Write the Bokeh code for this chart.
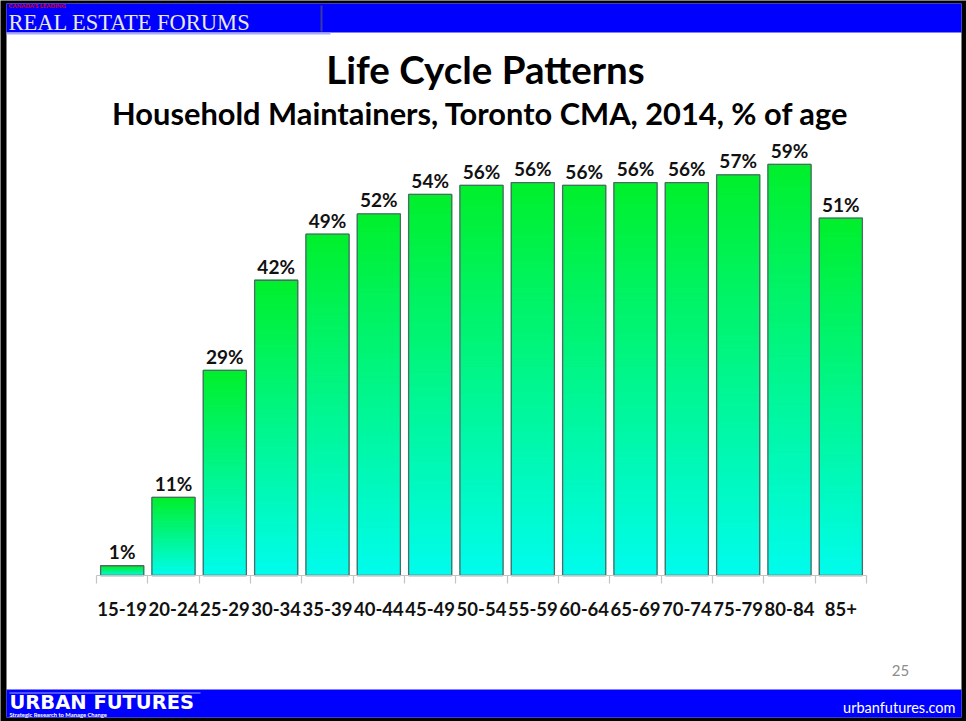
from bokeh.plotting import figure
from bokeh.models import (Range1d, FixedTicker, CustomJSTickFormatter, Label, BoxAnnotation,
                          ColumnDataSource, LinearAxis)
from bokeh.core.properties import value
from bokeh.embed import file_html
from bokeh.resources import INLINE

# ---- data ----
categories = ["15-19", "20-24", "25-29", "30-34", "35-39", "40-44", "45-49", "50-54",
              "55-59", "60-64", "65-69", "70-74", "75-79", "80-84", "85+"]
values = [1.4, 11.2, 29.4, 42.3, 48.9, 51.8, 54.6, 55.9, 56.3, 55.9, 56.3, 56.3, 57.4, 58.9, 51.2]
value_labels = ["1%", "11%", "29%", "42%", "49%", "52%", "54%", "56%",
                "56%", "56%", "56%", "56%", "57%", "59%", "51%"]
title_text = "Life Cycle Patterns"
subtitle_text = "Household Maintainers, Toronto CMA, 2014, % of age"
header_small = "CANADA'S LEADING"
header_text = "REAL ESTATE FORUMS"
footer_left = "URBAN FUTURES"
footer_tag = "Strategic Research to Manage Change"
footer_right = "urbanfutures.com"
page_number = "25"

# ---- layout (canvas pixels) ----
W, H = 966, 721
PLOT_L, PLOT_R, BASE_Y = 96, 866, 575
PX_PER_PCT = 6.98
ncat = len(categories)
px_per_cat = (PLOT_R - PLOT_L) / ncat
x_start = -PLOT_L / px_per_cat
x_end = ncat + (W - PLOT_R) / px_per_cat
y_start = -(H - BASE_Y) / PX_PER_PCT
y_end = BASE_Y / PX_PER_PCT
BLUE = "#0000FF"
BASELINE_FIX = 0.27  # empirical shift of the alphabetic baseline, in em

p = figure(width=W, height=H, output_backend="svg", toolbar_location=None, tools="",
           x_range=Range1d(x_start, x_end), y_range=Range1d(y_start, y_end),
           x_axis_location=None, y_axis_location=None,
           min_border=0, min_border_left=0, min_border_right=0,
           min_border_top=0, min_border_bottom=0)
p.xgrid.visible = False
p.ygrid.visible = False
p.outline_line_color = None
p.background_fill_color = "#000000"
p.border_fill_color = "#000000"

# ---- decorations helpers (screen units, origin bottom-left of canvas) ----
def sy(y):
    return H - y

def add_box(x0, y0, x1, y1, color):
    p.add_layout(BoxAnnotation(left=x0, right=x1, top=sy(y0), bottom=sy(y1),
                               left_units="screen", right_units="screen",
                               top_units="screen", bottom_units="screen",
                               fill_color=color, fill_alpha=1.0, line_color=None,
                               level="underlay"))

def add_text(txt, x, y, size, color="black", bold=False, align="left", font="Lato"):
    y_adj = y - BASELINE_FIX * size
    p.add_layout(Label(x=x, y=sy(y_adj), x_units="screen", y_units="screen", text=txt,
                       text_font=font, text_font_size=f"{size}px",
                       text_font_style="bold" if bold else "normal",
                       text_color=color, text_align=align, text_baseline="alphabetic"))

# slide background with black frame
add_box(6, 3, 961, 717, "white")

# header banner
add_box(6, 3, 961, 32, BLUE)
add_box(6, 32, 330, 34, "#a8a8ff")
add_box(320, 5, 322, 31, "#3a3aa0")

# footer banner
add_box(6, 689, 961, 717, BLUE)
add_box(9, 692, 200, 693, "#a0a0ff")

# ---- gradient bars ----
N = 60
BW = 0.84
top_rgb = (0, 240, 45)
bot_rgb = (0, 252, 236)
lefts, rights, bottoms, tops, colors = [], [], [], [], []
for i, v in enumerate(values):
    for k in range(N):
        t = k / (N - 1)
        r = int(round(bot_rgb[0] + (top_rgb[0] - bot_rgb[0]) * t))
        g = int(round(bot_rgb[1] + (top_rgb[1] - bot_rgb[1]) * t))
        b = int(round(bot_rgb[2] + (top_rgb[2] - bot_rgb[2]) * t))
        lefts.append(i + 0.5 - BW / 2)
        rights.append(i + 0.5 + BW / 2)
        bottoms.append(v * k / N)
        tops.append(min(v, v * (k + 2) / N))
        colors.append("#%02x%02x%02x" % (r, g, b))
p.quad(left=lefts, right=rights, bottom=bottoms, top=tops, fill_color=colors,
       line_color=colors, line_width=0.6)

xs = [i + 0.5 for i in range(ncat)]
src = ColumnDataSource(dict(x=xs, top=values, lab=value_labels))
p.vbar(x="x", top="top", width=BW, source=src, fill_color=None, line_color="#4f6a66", line_width=1.3)
p.text(x="x", y="top", text="lab", source=src, y_offset=-14, text_align="center",
       text_baseline="alphabetic", text_font=value("Lato"), text_font_style="bold",
       text_font_size="19px", text_color="#111111")

# ---- x axis at the baseline ----
ax = LinearAxis(fixed_location=0)
ax.ticker = FixedTicker(ticks=xs, minor_ticks=list(range(ncat + 1)))
ax.formatter = CustomJSTickFormatter(args=dict(labels=categories),
                                     code="const i = Math.round(tick - 0.5); return (i >= 0 && i < labels.length) ? labels[i] : '';")
ax.axis_line_color = "#c4c4c4"
ax.axis_line_width = 1.2
ax.major_tick_line_color = None
ax.major_tick_out = 0
ax.major_tick_in = 0
ax.minor_tick_line_color = "#c4c4c4"
ax.minor_tick_line_width = 1.2
ax.minor_tick_out = 8
ax.minor_tick_in = 0
ax.major_label_standoff = 18
ax.major_label_text_font = "Lato"
ax.major_label_text_font_style = "bold"
ax.major_label_text_font_size = "18.5px"
ax.major_label_text_color = "#111111"
ax.bounds = (0, ncat)
p.add_layout(ax, "below")

# header texts
add_text(header_small, 8, 7, 6, color="#e00000", bold=True)
add_text(header_text, 8, 28, 22.5, color="#e8e8e8", font="Liberation Serif")

# footer texts
add_text(footer_left, 9, 707, 19.5, color="white", bold=True, font="DejaVu Sans")
add_text(footer_tag, 9, 716, 5.8, color="white", bold=True)
add_text(footer_right, 955, 711, 14.5, color="white", align="right")

# titles and page number
add_text(title_text, 485, 79, 38.5, bold=True, align="center")
add_text(subtitle_text, 480, 121, 30.8, bold=True, align="center")
add_text(page_number, 900, 674, 15, color="#8c8c8c", align="center")

open("out.html", "w").write(file_html(p, INLINE))
